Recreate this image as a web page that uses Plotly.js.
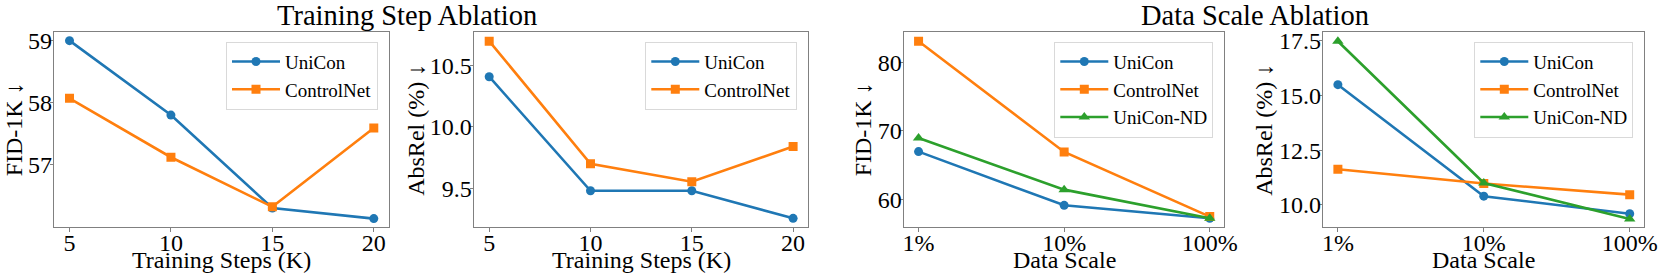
<!DOCTYPE html>
<html>
<head>
<meta charset="utf-8">
<script src="https://cdn.plot.ly/plotly-3.0.1.min.js"></script>
<style>html,body{margin:0;padding:0;background:#fff;}#chart{width:1661px;height:280px;}</style>
</head>
<body>
<div id="chart"></div>
<script>
// ---- data ----
const stepCategories = [5, 10, 15, 20];
const stepFidUniCon = [59.0, 57.8, 56.3, 56.13];
const stepFidControlNet = [58.07, 57.12, 56.32, 57.59];
const stepAbsRelUniCon = [10.41, 9.48, 9.48, 9.255];
const stepAbsRelControlNet = [10.70, 9.70, 9.554, 9.84];

const scaleCategories = ["1%", "10%", "100%"];
const scaleFidUniCon = [66.96, 59.12, 57.23];
const scaleFidControlNet = [83.07, 66.91, 57.47];
const scaleFidUniConND = [68.95, 61.41, 57.23];
const scaleAbsRelUniCon = [15.49, 10.40, 9.60];
const scaleAbsRelControlNet = [11.63, 10.98, 10.47];
const scaleAbsRelUniConND = [17.47, 11.0, 9.36];

const stepTicks = [5, 10, 15, 20];
const fidStepTicks = [57, 58, 59];
const absStepTicks = [9.5, 10.0, 10.5];
const fidScaleTicks = [60, 70, 80];
const absScaleTicks = [10.0, 12.5, 15.0, 17.5];

const xTitles = ['Training Steps (K)', 'Training Steps (K)', 'Data Scale', 'Data Scale'];
const yTitles = ['FID-1K ↓', 'AbsRel (%) ↓', 'FID-1K ↓', 'AbsRel (%) ↓'];
const groupTitles = ['Training Step Ablation', 'Data Scale Ablation'];

// ---- styling ----
const W = 1661, H = 280;
const FONT = 'Liberation Serif, Times New Roman, serif';
const C_BLUE = '#1f77b4', C_ORANGE = '#ff7f0e', C_GREEN = '#2ca02c';
const plotTop = 32.3, plotBottom = 227.3;
const panels = [[54.3, 389], [474, 808.3], [904, 1224.3], [1323.3, 1644.3]];
const yTitleX = [13.5, 416, 862.5, 1264];
const groupTitleX = [407, 1255];
const ydom = [(H - plotBottom) / H, (H - plotTop) / H];

function tr(x, y, name, color, symbol, xa, ya, leg) {
  return {
    x: x, y: y, name: name, type: 'scatter', mode: 'lines+markers',
    xaxis: xa, yaxis: ya, legend: leg,
    line: {color: color, width: 2.6},
    marker: {color: color, symbol: symbol, size: symbol === 'triangle-up' ? 10 : 9}
  };
}

const data = [
  tr(stepCategories, stepFidUniCon, 'UniCon', C_BLUE, 'circle', 'x', 'y', 'legend'),
  tr(stepCategories, stepFidControlNet, 'ControlNet', C_ORANGE, 'square', 'x', 'y', 'legend'),
  tr(stepCategories, stepAbsRelUniCon, 'UniCon', C_BLUE, 'circle', 'x2', 'y2', 'legend2'),
  tr(stepCategories, stepAbsRelControlNet, 'ControlNet', C_ORANGE, 'square', 'x2', 'y2', 'legend2'),
  tr(scaleCategories, scaleFidUniCon, 'UniCon', C_BLUE, 'circle', 'x3', 'y3', 'legend3'),
  tr(scaleCategories, scaleFidControlNet, 'ControlNet', C_ORANGE, 'square', 'x3', 'y3', 'legend3'),
  tr(scaleCategories, scaleFidUniConND, 'UniCon-ND', C_GREEN, 'triangle-up', 'x3', 'y3', 'legend3'),
  tr(scaleCategories, scaleAbsRelUniCon, 'UniCon', C_BLUE, 'circle', 'x4', 'y4', 'legend4'),
  tr(scaleCategories, scaleAbsRelControlNet, 'ControlNet', C_ORANGE, 'square', 'x4', 'y4', 'legend4'),
  tr(scaleCategories, scaleAbsRelUniConND, 'UniCon-ND', C_GREEN, 'triangle-up', 'x4', 'y4', 'legend4')
];

function xax(i, extra) {
  return Object.assign({
    domain: [panels[i][0] / W, panels[i][1] / W],
    anchor: i === 0 ? 'y' : 'y' + (i + 1),
    showline: true, mirror: true, linecolor: '#808080', linewidth: 1,
    showgrid: false, zeroline: false,
    ticks: 'outside', ticklen: 3.5, tickcolor: '#808080', tickwidth: 1,
    ticklabelstandoff: -10,
    tickfont: {family: FONT, size: 24, color: '#000'}
  }, extra);
}
function yax(i, range, ticks, fmt) {
  return {
    domain: ydom,
    anchor: i === 0 ? 'x' : 'x' + (i + 1),
    range: range, tickvals: ticks, tickformat: fmt,
    showline: true, mirror: true, linecolor: '#808080', linewidth: 1,
    showgrid: false, zeroline: false,
    ticks: 'outside', ticklen: 3.5, tickcolor: '#808080', tickwidth: 1,
    ticklabelstandoff: -7,
    tickfont: {family: FONT, size: 24, color: '#000'}
  };
}
function leg(i) {
  return {
    x: (panels[i][1] - 11) / W, y: (H - plotTop - 9.4) / H,
    xanchor: 'right', yanchor: 'top',
    bgcolor: 'rgba(255,255,255,0.8)', bordercolor: '#d9d9d9', borderwidth: 1,
    font: {family: FONT, size: 19, color: '#000'},
    itemwidth: 48, tracegroupgap: 0
  };
}

const annotations = [];
for (let i = 0; i < 4; i++) {
  annotations.push({text: xTitles[i], xref: 'paper', yref: 'paper',
    x: (panels[i][0] + panels[i][1]) / 2 / W, y: 1 - 260 / H,
    xanchor: 'center', yanchor: 'middle', showarrow: false,
    font: {family: FONT, size: 24, color: '#000'}});
  annotations.push({text: yTitles[i], xref: 'paper', yref: 'paper', textangle: -90,
    x: yTitleX[i] / W, y: 1 - (plotTop + plotBottom) / 2 / H,
    xanchor: 'center', yanchor: 'middle', showarrow: false,
    font: {family: FONT, size: 24, color: '#000'}});
}
for (let g = 0; g < 2; g++) {
  annotations.push({text: groupTitles[g], xref: 'paper', yref: 'paper',
    x: groupTitleX[g] / W, y: 1 - 15 / H, xanchor: 'center', yanchor: 'middle', showarrow: false,
    font: {family: FONT, size: 28.5, color: '#000'}});
}

const layout = {
  width: W, height: H,
  margin: {l: 0, r: 0, t: 0, b: 0},
  paper_bgcolor: '#fff', plot_bgcolor: '#fff',
  showlegend: true,
  font: {family: FONT, color: '#000'},
  xaxis: xax(0, {range: [4.25, 20.75], tickvals: stepTicks}),
  xaxis2: xax(1, {range: [4.25, 20.75], tickvals: stepTicks}),
  xaxis3: xax(2, {type: 'category', range: [-0.1, 2.1]}),
  xaxis4: xax(3, {type: 'category', range: [-0.1, 2.1]}),
  yaxis: yax(0, [55.99, 59.135], fidStepTicks, 'd'),
  yaxis2: yax(1, [9.182, 10.772], absStepTicks, '.1f'),
  yaxis3: yax(2, [55.91, 84.38], fidScaleTicks, 'd'),
  yaxis4: yax(3, [8.98, 17.88], absScaleTicks, '.1f'),
  legend: leg(0), legend2: leg(1), legend3: leg(2), legend4: leg(3),
  annotations: annotations
};

Plotly.newPlot('chart', data, layout, {displayModeBar: false, staticPlot: true});
</script>
</body>
</html>
